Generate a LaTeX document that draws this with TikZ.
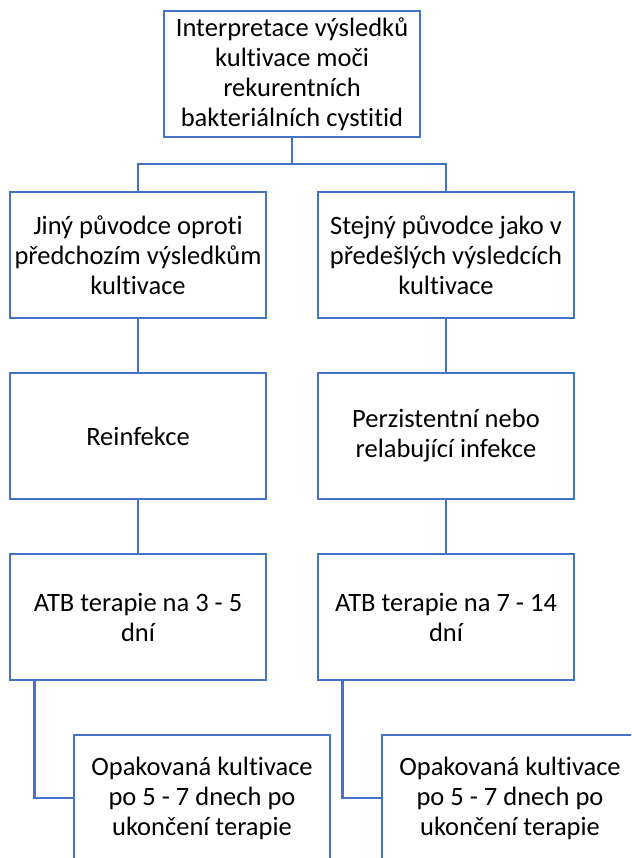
\documentclass[tikz,border=0pt]{standalone}
\usepackage{fontspec}
\setmainfont{Carlito}[Ligatures=NoCommon]
\begin{document}
\begin{tikzpicture}[x=1pt,y=-1pt,
  box/.style={draw=officeblue, line width=2.6pt, fill=white,
    minimum width=256pt, minimum height=126pt, inner sep=0pt,
    align=center, font=\fontsize{26.5}{30}\selectfont, text=black},
  link/.style={draw=officeblue, line width=2.6pt}]
\definecolor{officeblue}{HTML}{4472C4}
\useasboundingbox (0,0) rectangle (631,858);
\clip (0,0) rectangle (631,858);
\fill[white] (0,0) rectangle (631,858);

% root
\node[box] (top) at (292,74) {Interpretace výsledků\\kultivace moči\\rekurentních\\bakteriálních cystitid};

% left branch
\node[box] (a1) at (138,255) {Jiný původce oproti\\předchozím výsledkům\\kultivace};
\node[box] (a2) at (138,436) {Reinfekce};
\node[box] (a3) at (138,617) {ATB terapie na 3 - 5\\dní};
\node[box] (a4) at (202,798) {Opakovaná kultivace\\po 5 - 7 dnech po\\ukončení terapie};

% right branch
\node[box] (b1) at (446,255) {Stejný původce jako v\\předešlých výsledcích\\kultivace};
\node[box] (b2) at (446,436) {Perzistentní nebo\\relabující infekce};
\node[box] (b3) at (446,617) {ATB terapie na 7 - 14\\dní};
\node[box] (b4) at (510,798) {Opakovaná kultivace\\po 5 - 7 dnech po\\ukončení terapie};

% connectors
\coordinate (fork) at (292,164);
\draw[link] (top.south) -- (fork) -| (a1.north);
\draw[link] (fork) -| (b1.north);
\draw[link] (a1.south) -- (a2.north);
\draw[link] (a2.south) -- (a3.north);
\draw[link] (b1.south) -- (b2.north);
\draw[link] (b2.south) -- (b3.north);
\coordinate (ea) at ([xshift=26pt]a3.south west);
\coordinate (eb) at ([xshift=26pt]b3.south west);
\draw[link] (ea) |- (a4.west);
\draw[link] (eb) |- (b4.west);
\end{tikzpicture}
\end{document}
